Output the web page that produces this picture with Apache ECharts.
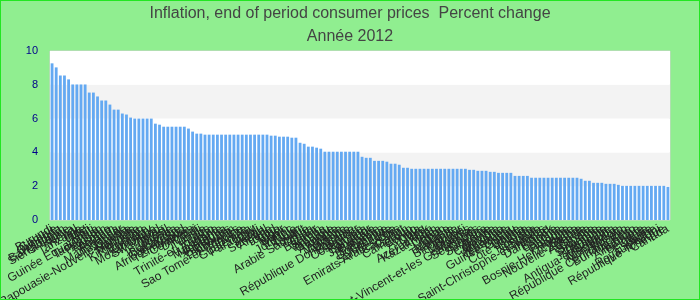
<!DOCTYPE html>
<html>
<head>
<meta charset="utf-8">
<script src="https://cdn.jsdelivr.net/npm/echarts@6/dist/echarts.min.js"></script>
<style>
html,body{margin:0;padding:0;background:#90EE90;}
#chart{width:700px;height:300px;box-sizing:border-box;border:1px solid #22e622;}
</style>
</head>
<body>
<div id="chart"></div>
<script>
const categories = [
"Burundi","Gambie","Ouganda","Bangladesh","Sierra Leone","Kenya","Népal","Tanzanie","Inde","Mali",
"Haïti","Guinée Équatoriale","Tadjikistan","Pakistan","Lesotho","Vietnam","Rwanda","Madagascar","Ghana","Papouasie-Nouvelle-Guinée",
"Namibie","Mongolie","Kirghizistan","Érythrée","Uruguay","Mozambique","Swaziland","Tonga","Brésil","Indonésie",
"Botswana","Cambodge","Afrique du Sud","Zimbabwe","Comores","Djibouti","Fidji","Tunisie","Laos","Trinité-et-Tobago",
"Turquie","Mauritanie","Nicaragua","Honduras","Bhoutan","Philippines","Sao Tomé-et-Principe","Belize","Guatemala","Paraguay",
"Chili","Pérou","Sénégal","Algérie","Tchad","Togo","Niger","Bénin","Maroc","Jordanie",
"Liban","Koweït","Arabie Saoudite","Oman","Qatar","Bahreïn","Samoa","Vanuatu","Géorgie","Arménie",
"Albanie","Moldavie","Ukraine","République Dominicaine","Équateur","Costa Rica","Panama","Salvador","Jamaïque","Barbade",
"Bahamas","Dominique","Grenade","Sainte-Lucie","Emirats Arabes Unis","Cap-Vert","Gabon","Cameroun","Congo","Angola",
"Libye","Irak","Azerbaïdjan","Kazakhstan","Corée","Japon","Chine","Malaisie","Thaïlande","Singapour",
"Brunei","Maldives","Maurice","Saint-Vincent-et-les Grenadines","Seychelles","Guyana","Suriname","Bolivie","Colombie","Mexique",
"Argentine","Venezuela","Guinée-Bissau","Guinée","Liberia","Côte d'Ivoire","Islande","Norvège","Suède","Saint-Christophe-et-Niévès",
"Finlande","Danemark","Estonie","Lettonie","Lituanie","Pologne","Hongrie","Bosnie-Herzégovine","Serbie","Nouvelle-Zélande",
"Australie","Croatie","Slovénie","Slovaquie","Roumanie","Bulgarie","Antigua-et-Barbuda","Macédoine","Monténégro","Kosovo",
"République Centrafricaine","Burkina Faso","Autriche","Allemagne","Belgique","Italie","Espagne","Royaume-Uni","République Tchèque","Canada"
];
const values = [
9.27,9.03,8.55,8.55,8.32,8.02,8.02,8.02,8.02,7.54,
7.54,7.31,7.07,7.07,6.83,6.53,6.53,6.30,6.24,6.06,
6.00,6.00,6.00,6.00,6.00,5.70,5.64,5.52,5.52,5.52,
5.52,5.52,5.52,5.41,5.23,5.11,5.11,5.05,5.05,5.05,
5.05,5.05,5.05,5.05,5.05,5.05,5.05,5.05,5.05,5.05,
5.05,5.05,5.05,4.99,4.99,4.93,4.93,4.93,4.87,4.87,
4.57,4.51,4.34,4.34,4.28,4.22,4.04,4.04,4.04,4.04,
4.04,4.04,4.04,4.04,4.04,3.74,3.68,3.68,3.50,3.50,
3.50,3.45,3.33,3.33,3.27,3.09,3.09,3.03,3.03,3.03,
3.03,3.03,3.03,3.03,3.03,3.03,3.03,3.03,3.03,3.03,
3.03,2.97,2.97,2.91,2.91,2.91,2.85,2.85,2.79,2.79,
2.79,2.79,2.61,2.61,2.61,2.61,2.50,2.50,2.50,2.50,
2.50,2.50,2.50,2.50,2.50,2.50,2.50,2.50,2.44,2.32,
2.32,2.20,2.20,2.20,2.14,2.14,2.14,2.08,2.02,2.02,
2.02,2.02,2.02,2.02,2.02,2.02,2.02,2.02,2.02,1.96
];
const titleText = "Inflation, end of period consumer prices  Percent change";
const subtitleText = "Année 2012";
const yTicks = [0, 2, 4, 6, 8, 10];

const chart = echarts.init(document.getElementById('chart'), null, {renderer: 'canvas'});
chart.setOption({
  animation: false,
  backgroundColor: '#90EE90',
  title: {
    text: titleText + "\n" + subtitleText,
    left: 'center',
    top: -4,
    textStyle: {fontFamily: 'Liberation Sans, Arial, sans-serif', fontSize: 16, fontWeight: 'normal', color: '#444', lineHeight: 23}
  },
  grid: {left: 49, right: 29, top: 50, bottom: 79, containLabel: false, outerBoundsMode: 'none', show: true, backgroundColor: '#fff', borderColor: '#d0d0d0', borderWidth: 1},
  xAxis: {
    type: 'category',
    data: categories,
    axisLine: {show: false},
    axisTick: {show: false},
    axisLabel: {interval: 0, rotate: 30, fontSize: 12, color: '#222', margin: 8, fontFamily: 'Liberation Sans, Arial, sans-serif'}
  },
  yAxis: {
    type: 'value',
    min: yTicks[0],
    max: yTicks[yTicks.length - 1],
    interval: 2,
    axisLine: {show: false},
    axisTick: {show: false},
    splitLine: {show: false},
    splitArea: {show: true, areaStyle: {color: ['#ffffff', '#f3f3f3']}},
    axisLabel: {fontSize: 11, color: '#00008b', margin: 12, fontFamily: 'Liberation Sans, Arial, sans-serif'}
  },
  series: [{
    type: 'bar',
    data: values,
    barCategoryGap: '32%',
    itemStyle: {color: '#64a9f2'}
  }]
});
</script>
</body>
</html>
